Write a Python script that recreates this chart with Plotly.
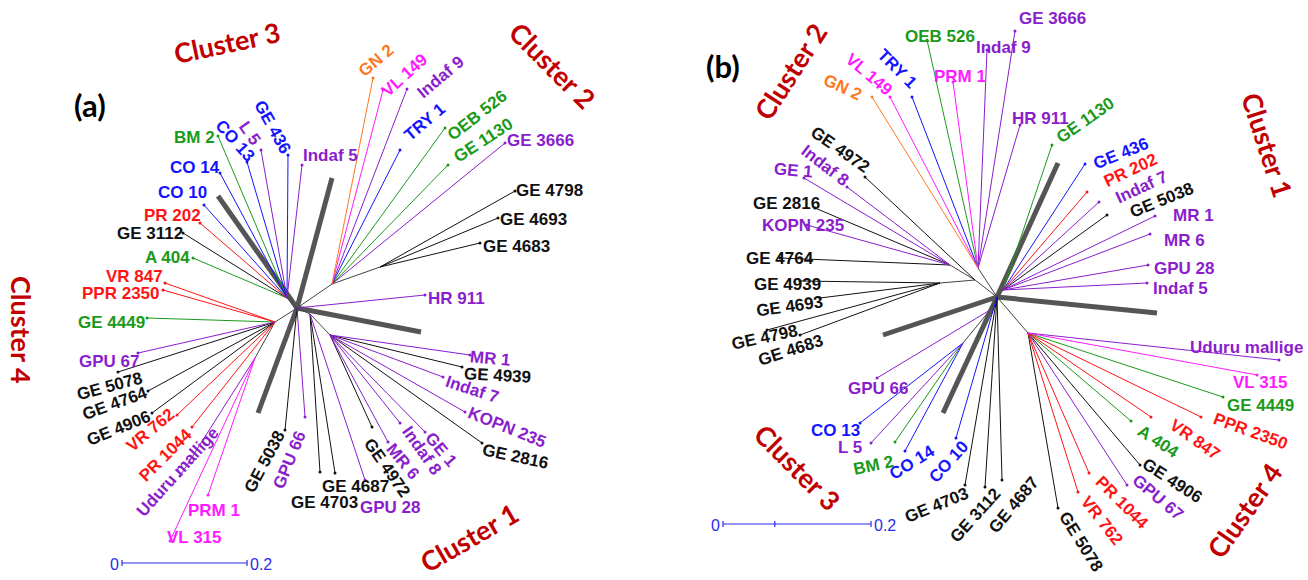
import plotly.graph_objects as go

# ---------------- colour groups ----------------
COL = {
    "k": "#111111", "g": "#1a9a1a", "b": "#1414ff", "r": "#ff1414",
    "p": "#8a1ecc", "m": "#ff1aff", "o": "#ff7722",
}
BRANCH_GREY = "#555555"
CLUSTER_RED = "#c00000"
SCALE_BLUE = "#2b2bea"

# ---------------- panel (a) data ----------------
a_root = (297, 308)
a_hub_names = ["H3", "H4", "H4m", "H1", "H1b", "H2", "H2b"]
a_hub_x = [287, 275, 255, 310, 330, 332, 380]
a_hub_y = [298, 322, 358, 314, 335, 284, 267]
a_hub_parent = ["root", "root", "H4", "root", "H1", "root", "H2"]

a_labels = ["BM 2", "CO 14", "CO 13", "L 5", "GE 436", "Indaf 5", "CO 10", "PR 202", "GE 3112", "A 404",
            "VR 847", "PPR 2350", "GE 4449", "GPU 67", "GE 5078", "GE 4764", "GE 4906", "VR 762", "PR 1044",
            "Uduru mallige", "PRM 1", "VL 315", "GE 5038", "GPU 66", "GE 4703", "GE 4687", "GPU 28", "GE 4972",
            "MR 6", "Indaf 8", "GE 1", "GE 2816", "KOPN 235", "Indaf 7", "GE 4939", "MR 1", "HR 911", "GE 4683",
            "GE 4693", "GE 4798", "GE 3666", "GE 1130", "OEB 526", "TRY 1", "Indaf 9", "VL 149", "GN 2"]
a_colors = ["g", "b", "b", "p", "b", "p", "b", "r", "k", "g",
            "r", "r", "g", "p", "k", "k", "k", "r", "r",
            "p", "m", "m", "k", "p", "k", "k", "p", "k",
            "p", "p", "p", "k", "p", "p", "k", "p", "p", "k",
            "k", "k", "p", "g", "g", "b", "p", "m", "o"]
a_tip_x = [218, 220, 247, 261, 288, 302, 204, 200, 183, 193,
           165, 163, 147, 138, 118, 148, 152, 177, 192,
           180, 208, 170, 285, 305, 320, 335, 365, 372,
           388, 400, 425, 482, 465, 443, 462, 470, 425, 480,
           498, 515, 505, 448, 445, 400, 407, 383, 373]
a_tip_y = [136, 173, 162, 150, 155, 165, 205, 223, 233, 258,
           283, 290, 318, 353, 372, 391, 413, 415, 427,
           476, 495, 541, 430, 417, 472, 473, 480, 427,
           442, 423, 432, 443, 412, 377, 367, 355, 295, 243,
           218, 191, 143, 165, 128, 150, 89, 90, 78]
a_parent = ["H3"] * 10 + ["H4"] * 9 + ["H4m"] * 3 + ["root", "root"] + ["H1"] * 3 + ["H1b"] * 9 + \
           ["root"] + ["H2b"] * 3 + ["H2"] * 7
# label placement (style): centre offset from tip in px, and rotation
a_lab_dx = [-24, -25, -12, -11, -15, 28, -22, -28, -33, -26,
            -31, -42, -36, -29, -9, -33, -34, -27, -27,
            -3, 6, 24, -21, -16, 4, 20, 25, 15,
            15, 22, 16, 33, 42, 29, 35, 20, 31, 36,
            35, 34, 35, 35, 32, 24, 33, 21, 3]
a_lab_dy = [1, -6, -22, -17, -28, -10, -13, -8, 0, -1,
            -7, 3, 4, 8, 14, 12, 15, 15, 28,
            -4, 15, -4, 32, 43, 30, 13, 27, 40,
            19, 27, 17, 13, 15, 12, 8, 3, 3, 3,
            1, -1, -3, -25, -13, -28, -12, -15, -18]
a_lab_rot = [0, 0, 48, 55, 61, 0, 0, 0, 0, 0,
             0, 0, 0, 0, -15, -20, -22, -40, -45,
             -48, 0, 0, -62, -68, 0, 0, 0, 55,
             50, 55, 50, 12, 22, 18, 3, 5, 0, 0,
             0, 0, 0, -33, -38, -40, -40, -42, -40]
a_separators_x = [218, 332, 421, 258]
a_separators_y = [196, 178, 332, 413]

# ---------------- panel (b) data ----------------
b_root = (997, 297)
b_hub_names = ["B2", "B1", "B7", "B5", "B6", "B3a", "B3", "B4"]
b_hub_x = [978, 1003, 975, 950, 940, 990, 963, 1028]
b_hub_y = [268, 290, 280, 265, 283, 310, 343, 333]
b_hub_parent = ["root", "root", "root", "B7", "B7", "root", "B3a", "root"]

b_labels = ["OEB 526", "PRM 1", "Indaf 9", "GE 3666", "TRY 1", "VL 149", "GN 2", "HR 911", "GE 1130", "GE 436",
            "PR 202", "Indaf 7", "GE 5038", "MR 1", "MR 6", "GPU 28", "Indaf 5", "GE 4972", "Indaf 8", "GE 1",
            "GE 2816", "KOPN 235", "GE 4764", "GE 4939", "GE 4693", "GE 4798", "GE 4683", "GPU 66", "CO 13",
            "L 5", "BM 2", "CO 14", "CO 10", "GE 4703", "GE 3112", "GE 4687", "GE 5078", "VR 762", "PR 1044",
            "GPU 67", "GE 4906", "A 404", "VR 847", "PPR 2350", "GE 4449", "VL 315", "Uduru mallige"]
b_colors = ["g", "m", "p", "p", "b", "m", "o", "p", "g", "b",
            "r", "p", "k", "p", "p", "p", "p", "k", "p", "p",
            "k", "p", "k", "k", "k", "k", "k", "p", "b",
            "p", "g", "b", "b", "k", "k", "k", "k", "r", "r",
            "p", "k", "g", "r", "r", "g", "m", "p"]
b_tip_x = [927, 953, 987, 1015, 912, 890, 872, 1020, 1052, 1085,
           1087, 1099, 1107, 1155, 1150, 1148, 1147, 865, 847, 804,
           815, 807, 780, 800, 820, 767, 800, 877, 860,
           871, 895, 905, 956, 965, 985, 1002, 1058, 1078, 1089,
           1127, 1140, 1131, 1151, 1201, 1223, 1257, 1279]
b_tip_y = [40, 82, 50, 31, 97, 97, 97, 125, 145, 164,
           192, 202, 215, 216, 234, 265, 283, 177, 187, 178,
           208, 225, 258, 281, 298, 330, 335, 378, 423,
           443, 442, 451, 438, 485, 487, 480, 508, 492, 473,
           485, 465, 421, 417, 417, 397, 375, 360]
b_parent = ["B2"] * 8 + ["B1"] * 9 + ["B7"] + ["B5"] * 5 + ["B6"] * 4 + ["B3a"] + ["B3"] * 4 + \
           ["root"] * 4 + ["B4"] * 11
b_lab_dx = [13, 7, 16, 37, -15, -21, -29, 20, 33, 36,
            43, 42, 54, 38, 34, 36, 33, -25, -22, -11,
            -29, -4, 0, -13, -31, -3, -10, 1, -25,
            -21, -22, 7, -8, -29, -10, 11, 23, 24, 33,
            31, 32, 27, 44, 50, 37, 3, -33]
b_lab_dy = [-4, -6, -3, -13, -29, -23, -10, -7, -25, -11,
            -22, -15, -15, -1, 6, 3, 5, -28, -22, -8,
            -5, 0, 0, 3, 8, 7, 15, 10, 7,
            4, 23, 11, 24, 20, 28, 25, 33, 28, 29,
            12, 15, 20, 22, 14, 8, 7, -13]
b_lab_rot = [0, 0, 0, 0, 45, 40, 25, 0, -35, -22,
             -25, -25, -22, 0, 0, 0, 0, 35, 38, 5,
             0, 0, 0, 0, -8, -12, -18, 0, 0,
             0, -12, -32, -48, -22, -48, -50, 58, 52, 45,
             40, 33, 33, 35, 20, 0, 0, 0]
b_separators_x = [1058, 943, 883, 1157]
b_separators_y = [163, 413, 335, 313]

# ---------------- decorations ----------------
cluster_text = ["Cluster 3", "Cluster 2", "Cluster 4", "Cluster 1",
                "Cluster 2", "Cluster 1", "Cluster 3", "Cluster 4"]
cluster_x = [227, 553, 22, 469, 790, 1268, 798, 1244]
cluster_y = [42, 65, 330, 537, 71, 145, 467, 510]
cluster_rot = [-12, 45, 90, -30, -57, 72, 45, -55]

panel_text = ["(a)", "(b)"]
panel_x = [90, 723]
panel_y = [105, 66]

scale_value = "0.2"
scale_x0 = [122, 723]
scale_x1 = [247, 871]
scale_y = [563, 524]
scale_mid_tick = [False, True]

fig = go.Figure()
annotations = []
LABEL_FONT = "Liberation Sans, Arial"


def add_panel(root, hub_names, hub_x, hub_y, hub_parent, labels, colors, tx, ty, parent,
              ldx, ldy, lrot, sep_x, sep_y):
    pos = {"root": root}
    for n, x, y in zip(hub_names, hub_x, hub_y):
        pos[n] = (x, y)
    # thick separators
    sx, sy = [], []
    for x, y in zip(sep_x, sep_y):
        sx += [root[0], x, None]
        sy += [root[1], y, None]
    fig.add_trace(go.Scatter(x=sx, y=sy, mode="lines",
                             line=dict(color=BRANCH_GREY, width=5), hoverinfo="skip"))
    # internal branches
    ix, iy = [], []
    for n, p in zip(hub_names, hub_parent):
        ix += [pos[p][0], pos[n][0], None]
        iy += [pos[p][1], pos[n][1], None]
    fig.add_trace(go.Scatter(x=ix, y=iy, mode="lines",
                             line=dict(color="#444444", width=1), hoverinfo="skip"))
    # leaf branches by colour
    for key in COL:
        lx, ly, px_, py_ = [], [], [], []
        for c, x, y, p in zip(colors, tx, ty, parent):
            if c != key:
                continue
            lx += [pos[p][0], x, None]
            ly += [pos[p][1], y, None]
            px_.append(x)
            py_.append(y)
        if not px_:
            continue
        fig.add_trace(go.Scatter(x=lx, y=ly, mode="lines",
                                 line=dict(color=COL[key], width=1), hoverinfo="skip"))
        fig.add_trace(go.Scatter(x=px_, y=py_, mode="markers",
                                 marker=dict(color=COL[key], size=3), hoverinfo="skip"))
    for lab, c, x, y, dx, dy, r in zip(labels, colors, tx, ty, ldx, ldy, lrot):
        annotations.append(dict(x=x, y=y, xref="x", yref="y", text="<b>" + lab + "</b>",
                                showarrow=False, xanchor="center", yanchor="middle",
                                xshift=dx, yshift=-dy, textangle=r,
                                font=dict(family=LABEL_FONT, size=17, color=COL[c])))


add_panel(a_root, a_hub_names, a_hub_x, a_hub_y, a_hub_parent, a_labels, a_colors, a_tip_x, a_tip_y,
          a_parent, a_lab_dx, a_lab_dy, a_lab_rot, a_separators_x, a_separators_y)
add_panel(b_root, b_hub_names, b_hub_x, b_hub_y, b_hub_parent, b_labels, b_colors, b_tip_x, b_tip_y,
          b_parent, b_lab_dx, b_lab_dy, b_lab_rot, b_separators_x, b_separators_y)

for t, x, y, r in zip(cluster_text, cluster_x, cluster_y, cluster_rot):
    annotations.append(dict(x=x, y=y, xref="x", yref="y", text="<b>" + t + "</b>", showarrow=False,
                            xanchor="center", yanchor="middle", textangle=r,
                            font=dict(family="Lato, Open Sans", size=27, color=CLUSTER_RED)))
for t, x, y in zip(panel_text, panel_x, panel_y):
    annotations.append(dict(x=x, y=y, xref="x", yref="y", text="<b>" + t + "</b>", showarrow=False,
                            xanchor="center", yanchor="middle",
                            font=dict(family="Lato, Open Sans", size=31, color="#000000")))

# scale bars
for x0, x1, y, mid in zip(scale_x0, scale_x1, scale_y, scale_mid_tick):
    bx = [x0, x1, None, x0, x0, None, x1, x1, None]
    by = [y, y, None, y - 3, y + 3, None, y - 3, y + 3, None]
    if mid:
        xm = x0 + (x1 - x0) * 0.35
        bx += [xm, xm]
        by += [y - 3, y + 3]
    fig.add_trace(go.Scatter(x=bx, y=by, mode="lines",
                             line=dict(color=SCALE_BLUE, width=1.2), hoverinfo="skip"))
    annotations.append(dict(x=x0, y=y, xref="x", yref="y", text="0", showarrow=False,
                            xanchor="right", yanchor="middle", xshift=-1, yshift=-1,
                            font=dict(family=LABEL_FONT, size=16, color=SCALE_BLUE)))
    annotations.append(dict(x=x1, y=y, xref="x", yref="y", text=scale_value, showarrow=False,
                            xanchor="left", yanchor="middle", xshift=1, yshift=-1,
                            font=dict(family=LABEL_FONT, size=16, color=SCALE_BLUE)))

fig.update_layout(
    width=1308, height=580, margin=dict(l=0, r=0, t=0, b=0),
    paper_bgcolor="white", plot_bgcolor="white", showlegend=False,
    xaxis=dict(range=[0, 1308], visible=False, fixedrange=True),
    yaxis=dict(range=[580, 0], visible=False, fixedrange=True),
    annotations=annotations,
)
fig.write_html("out.html", config={"displayModeBar": False},
               post_script="document.body.style.margin='0';document.body.style.overflow='hidden';")
